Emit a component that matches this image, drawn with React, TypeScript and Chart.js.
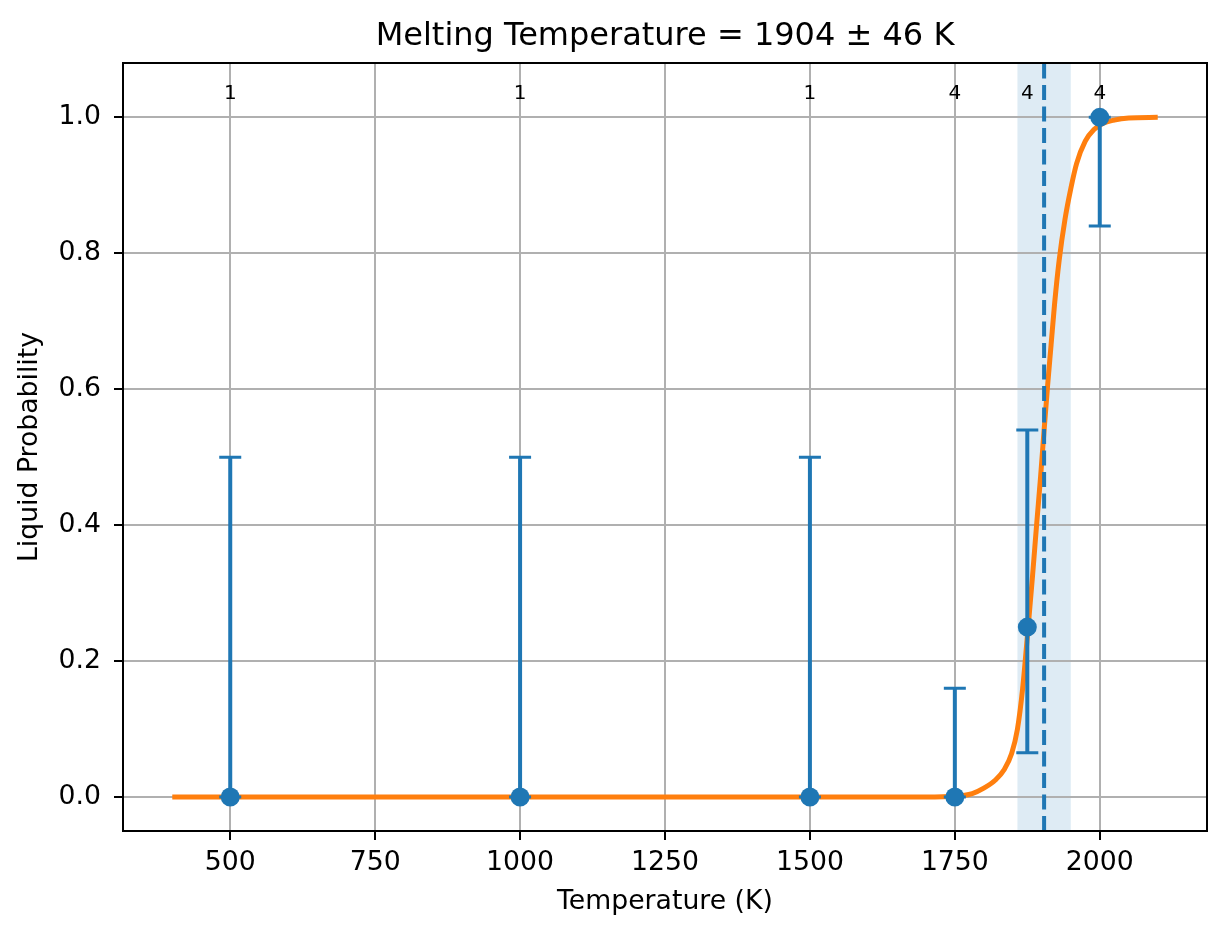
import { useEffect, useRef } from "react";
import { Chart, registerables } from "chart.js";

Chart.register(...registerables);

// measured points with asymmetric error bars
const tempPoints = [500, 1000, 1500, 1750, 1875, 2000];
const liquidProb = [0, 0, 0, 0, 0.25, 1.0];
const errLower = [0, 0, 0, 0, 0.065, 0.84];
const errUpper = [0.5, 0.5, 0.5, 0.16, 0.54, 1.0];
const sampleCounts = [1, 1, 1, 4, 4, 4];

// fitted curve
const fitTemps = [
  400, 1700, 1750, 1780, 1800, 1820, 1835, 1848, 1858, 1867, 1876, 1884, 1891,
  1898, 1904, 1910, 1916, 1922, 1930, 1940, 1950, 1960, 1975, 1990, 2005, 2025,
  2050, 2100,
];
const fitProb = [
  0, 0, 0.001, 0.005, 0.013, 0.025, 0.04, 0.064, 0.1, 0.16, 0.245, 0.325,
  0.4, 0.472, 0.54, 0.605, 0.665, 0.725, 0.79, 0.85, 0.895, 0.932, 0.965,
  0.982, 0.991, 0.996, 0.999, 1.0,
];

const meltTemp = 1904;
const meltErr = 46;

const xTicks = [500, 750, 1000, 1250, 1500, 1750, 2000];
const yTicks = [0, 0.2, 0.4, 0.6, 0.8, 1.0];

const FONT = "'DejaVu Sans', 'Liberation Sans', sans-serif";
const BLUE = "#1f77b4";
const ORANGE = "#ff7f0e";

export default function App() {
  const chartRef = useRef<HTMLCanvasElement | null>(null);

  useEffect(() => {
    document.body.style.margin = "0";
    if (!chartRef.current) return;
    const ctx = chartRef.current.getContext("2d");
    if (!ctx) return;

    const decorations = {
      id: "decorations",
      beforeDraw(chart: any) {
        // uncertainty band, under the grid
        const { ctx, chartArea } = chart;
        const x = chart.scales.x;
        const x0 = x.getPixelForValue(meltTemp - meltErr);
        const x1 = x.getPixelForValue(meltTemp + meltErr);
        ctx.save();
        ctx.fillStyle = "rgba(31,119,180,0.15)";
        ctx.fillRect(x0, chartArea.top, x1 - x0, chartArea.bottom - chartArea.top);
        ctx.restore();
      },
      afterDatasetDraw(chart: any, args: any) {
        if (args.index !== 1) return;
        // error bars go over the fit curve, under the markers
        const { ctx } = chart;
        const x = chart.scales.x;
        const y = chart.scales.y;
        ctx.save();
        ctx.strokeStyle = BLUE;
        tempPoints.forEach((t, i) => {
          const px = x.getPixelForValue(t);
          const lo = y.getPixelForValue(errLower[i]);
          const hi = y.getPixelForValue(errUpper[i]);
          ctx.lineWidth = 4;
          ctx.beginPath();
          ctx.moveTo(px, lo);
          ctx.lineTo(px, hi);
          ctx.stroke();
          ctx.lineWidth = 3;
          ctx.beginPath();
          ctx.moveTo(px - 11, lo);
          ctx.lineTo(px + 11, lo);
          ctx.moveTo(px - 11, hi);
          ctx.lineTo(px + 11, hi);
          ctx.stroke();
        });
        ctx.restore();
      },
      afterDatasetsDraw(chart: any) {
        const { ctx, chartArea } = chart;
        const x = chart.scales.x;
        const y = chart.scales.y;
        const px = x.getPixelForValue(meltTemp);
        ctx.save();
        ctx.strokeStyle = BLUE;
        ctx.lineWidth = 4;
        ctx.setLineDash([15, 6.5]);
        ctx.beginPath();
        ctx.moveTo(px, chartArea.bottom);
        ctx.lineTo(px, chartArea.top);
        ctx.stroke();
        ctx.setLineDash([]);

        // sample counts above each point
        ctx.fillStyle = "#000";
        ctx.font = `20px ${FONT}`;
        ctx.textAlign = "center";
        ctx.textBaseline = "middle";
        tempPoints.forEach((t, i) => {
          ctx.fillText(String(sampleCounts[i]), x.getPixelForValue(t), y.getPixelForValue(1.035));
        });

        // frame
        ctx.strokeStyle = "#000";
        ctx.lineWidth = 2;
        ctx.strokeRect(
          chartArea.left,
          chartArea.top,
          chartArea.right - chartArea.left,
          chartArea.bottom - chartArea.top
        );
        ctx.restore();
      },
    };

    const chart = new Chart(ctx, {
      type: "scatter",
      data: {
        datasets: [
          {
            label: "Data",
            data: tempPoints.map((t, i) => ({ x: t, y: liquidProb[i] })),
            backgroundColor: BLUE,
            borderColor: BLUE,
            pointRadius: 9.5,
            pointBorderWidth: 0,
            showLine: false,
          },
          {
            label: "Fit",
            data: fitTemps.map((t, i) => ({ x: t, y: fitProb[i] })),
            borderColor: ORANGE,
            borderWidth: 5,
            pointRadius: 0,
            showLine: true,
            cubicInterpolationMode: "monotone",
          },
        ],
      },
      options: {
        animation: false,
        responsive: false,
        devicePixelRatio: 1,
        layout: { padding: { top: 0, right: 20, bottom: 0, left: 0 } },
        plugins: {
          legend: { display: false },
          tooltip: { enabled: false },
          title: {
            display: true,
            text: `Melting Temperature = ${meltTemp} ± ${meltErr} K`,
            color: "#000",
            fullSize: false,
            font: { family: FONT, size: 32, weight: "normal" },
            padding: { top: 17, bottom: 7.6 },
          },
        },
        scales: {
          x: {
            type: "linear",
            min: 315,
            max: 2185,
            afterBuildTicks: (scale: any) => {
              scale.ticks = xTicks.map((v) => ({ value: v }));
            },
            afterFit: (scale: any) => {
              scale.height = 108;
            },
            ticks: {
              autoSkip: false,
              maxRotation: 0,
              color: "#000",
              padding: 7,
              font: { family: FONT, size: 26.7 },
              callback: (v: any) => String(v),
            },
            grid: {
              color: "#b0b0b0",
              lineWidth: 2,
              tickColor: "#000",
              tickWidth: 2,
              tickLength: 9,
            },
            border: { display: false },
            title: {
              display: true,
              text: "Temperature (K)",
              color: "#000",
              font: { family: FONT, size: 26.7 },
              padding: { top: 0, bottom: 21 },
            },
          },
          y: {
            type: "linear",
            min: -0.05,
            max: 1.08,
            afterBuildTicks: (scale: any) => {
              scale.ticks = yTicks.map((v) => ({ value: v }));
            },
            afterFit: (scale: any) => {
              scale.width = 123;
            },
            ticks: {
              autoSkip: false,
              color: "#000",
              padding: 13,
              font: { family: FONT, size: 26.7 },
              callback: (v: any) => Number(v).toFixed(1),
            },
            grid: {
              color: "#b0b0b0",
              lineWidth: 2,
              tickColor: "#000",
              tickWidth: 2,
              tickLength: 9,
            },
            border: { display: false },
            title: {
              display: true,
              text: "Liquid Probability",
              color: "#000",
              font: { family: FONT, size: 26.7 },
              padding: { top: 14, bottom: 0 },
            },
          },
        },
      },
      plugins: [decorations],
    });

    return () => chart.destroy();
  }, []);

  return (
    <div style={{ width: 1227, height: 939, background: "#fff" }}>
      <canvas ref={chartRef} width={1227} height={939} style={{ display: "block" }}></canvas>
    </div>
  );
}
